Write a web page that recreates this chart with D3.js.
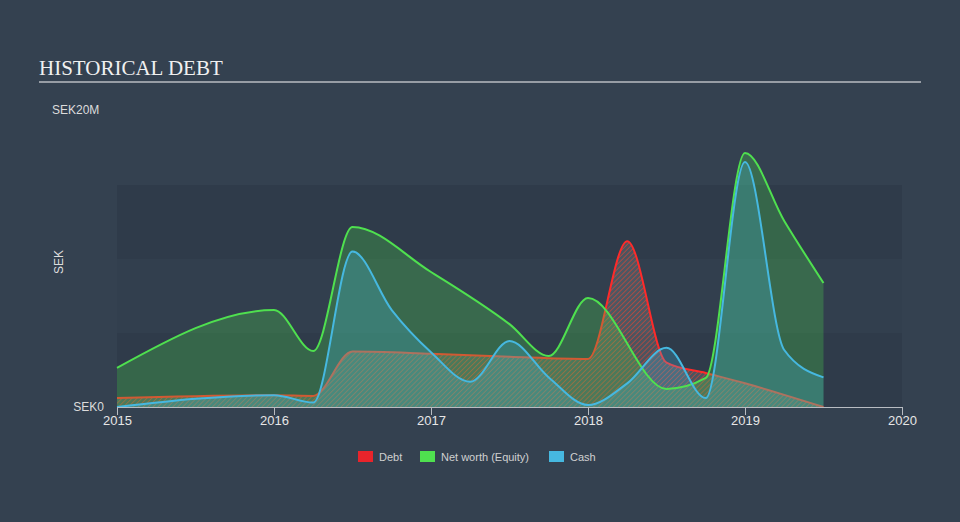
<!DOCTYPE html>
<html><head><meta charset="utf-8">
<script src="https://cdn.jsdelivr.net/npm/d3@7/dist/d3.min.js"></script>
<style>
html,body{margin:0;padding:0;background:#344150;}
svg{display:block;}
</style></head>
<body>
<svg id="chart" width="960" height="522"></svg>
<script>
// Data (values in SEK millions, x in fractional years)
const debtX   = [2015, 2016, 2016.25, 2016.5, 2017, 2017.5, 2018, 2018.25, 2018.5, 2018.75, 2019, 2019.5];
const debtY   = [0.6, 0.8, 0.75, 3.75, 3.6, 3.4, 3.25, 11.2, 3.0, 2.3, 1.6, 0.0];
const equityX = [2015, 2016, 2016.25, 2016.5, 2017, 2017.5, 2017.75, 2018, 2018.5, 2018.75, 2019, 2019.25, 2019.5];
const equityY = [2.64, 6.55, 3.78, 12.16, 9.12, 5.6, 3.45, 7.36, 1.22, 1.96, 17.16, 12.57, 8.38];
const cashX   = [2015, 2016, 2016.25, 2016.5, 2016.75, 2017, 2017.25, 2017.5, 2017.75, 2018, 2018.25, 2018.5, 2018.75, 2019, 2019.25, 2019.5];
const cashY   = [0.0, 0.8, 0.3, 10.5, 6.55, 3.7, 1.7, 4.46, 2.0, 0.13, 1.6, 4.0, 0.6, 16.55, 3.85, 2.0];
const xTicks  = [2015, 2016, 2017, 2018, 2019, 2020];
const bandEdges = [0, 5, 10, 15];
const legendItems = ["Debt", "Net worth (Equity)", "Cash"];
const legendColors = ["#e8242b", "#4fe04f", "#46b8e0"];

const svg = d3.select("#chart");
const x = d3.scaleLinear().domain([2015, 2020]).range([117, 902]);
const y = d3.scaleLinear().domain([0, 20]).range([407, 111]);

// background bands
const bandFill = ["#2f3b4a", "#323f4e", "#2f3b4a"];
svg.append("g").selectAll("rect").data(bandEdges.slice(0, 3)).join("rect")
  .attr("x", x(2015)).attr("width", x(2020) - x(2015))
  .attr("y", (d, i) => y(bandEdges[i + 1])).attr("height", (d, i) => y(bandEdges[i]) - y(bandEdges[i + 1]))
  .attr("fill", (d, i) => bandFill[i]);

// title
svg.append("text").attr("x", 39).attr("y", 75).text("HISTORICAL DEBT")
  .attr("font-family", "'Liberation Serif', 'DejaVu Serif', serif").attr("font-size", 21).attr("fill", "#f0f0f0");
svg.append("line").attr("x1", 39).attr("x2", 921).attr("y1", 82).attr("y2", 82)
  .attr("stroke", "#b8bcc2").attr("stroke-width", 1.5);

// pattern
const defs = svg.append("defs");
const pat = defs.append("pattern").attr("id", "hatch").attr("patternUnits", "userSpaceOnUse")
  .attr("width", 3.5).attr("height", 3.5).attr("patternTransform", "rotate(45)");
pat.append("rect").attr("width", 3.5).attr("height", 3.5).attr("fill", "rgba(160,160,160,0.25)");
pat.append("line").attr("x1", 0).attr("y1", 0).attr("x2", 0).attr("y2", 3.5)
  .attr("stroke", "#e8442f").attr("stroke-width", 1.6).attr("stroke-opacity", 0.7);

const curve = d3.curveMonotoneX;
const mk = (xs, ys) => xs.map((v, i) => [v, ys[i]]);
const debt = mk(debtX, debtY), equity = mk(equityX, equityY), cash = mk(cashX, cashY);
const area = d3.area().x(d => x(d[0])).y0(y(0)).y1(d => y(d[1])).curve(curve);
const line = d3.line().x(d => x(d[0])).y(d => y(d[1])).curve(curve);

// debt
svg.append("path").datum(debt).attr("d", area).attr("fill", "url(#hatch)");
svg.append("path").datum(debt).attr("d", line).attr("fill", "none").attr("stroke", "#ff2a2a").attr("stroke-width", 2);
// equity fill
svg.append("path").datum(equity).attr("d", area).attr("fill", "#4ee44e").attr("fill-opacity", 0.26);
// cash fill
svg.append("path").datum(cash).attr("d", area).attr("fill", "#45b9e0").attr("fill-opacity", 0.26);
// lines
svg.append("path").datum(equity).attr("d", line).attr("fill", "none").attr("stroke", "#4fe04f").attr("stroke-width", 2);
svg.append("path").datum(cash).attr("d", line).attr("fill", "none").attr("stroke", "#46b8e0").attr("stroke-width", 2);

// x axis
const xAxis = d3.axisBottom(x).tickValues(xTicks).tickFormat(d3.format("d")).tickSize(8).tickSizeOuter(0);
const gx = svg.append("g").attr("transform", `translate(0,${y(0)})`).call(xAxis);
gx.select(".domain").attr("stroke", "#b8bcc2");
gx.selectAll(".tick line").attr("stroke", "#b8bcc2");
gx.selectAll(".tick text").attr("fill", "#e6e6e6").attr("font-size", 13)
  .attr("font-family", "'Liberation Sans', Arial, sans-serif").attr("y", 8).attr("dy", "0.75em");

// y labels
svg.append("text").attr("x", 104).attr("y", y(0)).attr("dy", "0.35em").attr("text-anchor", "end")
  .text("SEK0").attr("font-family", "'Liberation Sans', Arial, sans-serif").attr("font-size", 12).attr("fill", "#dcdcdc");
svg.append("text").attr("x", 52).attr("y", y(20)).attr("dy", "0.25em")
  .text("SEK20M").attr("font-family", "'Liberation Sans', Arial, sans-serif").attr("font-size", 12).attr("fill", "#dcdcdc");
svg.append("text").attr("transform", "translate(63,262) rotate(-90)").attr("text-anchor", "middle")
  .text("SEK").attr("font-family", "'Liberation Sans', Arial, sans-serif").attr("font-size", 12).attr("fill", "#dcdcdc");

// legend
const lx = [358, 420, 549];
const lg = svg.append("g").selectAll("g").data(legendItems).join("g")
  .attr("transform", (d, i) => `translate(${lx[i]},451)`);
lg.append("rect").attr("width", 15).attr("height", 11).attr("fill", (d, i) => legendColors[i]);
lg.append("text").attr("x", 21).attr("y", 6).attr("dy", "0.35em").text(d => d)
  .attr("font-family", "'Liberation Sans', Arial, sans-serif").attr("font-size", 11).attr("fill", "#d0d0d0");
</script>
</body></html>
